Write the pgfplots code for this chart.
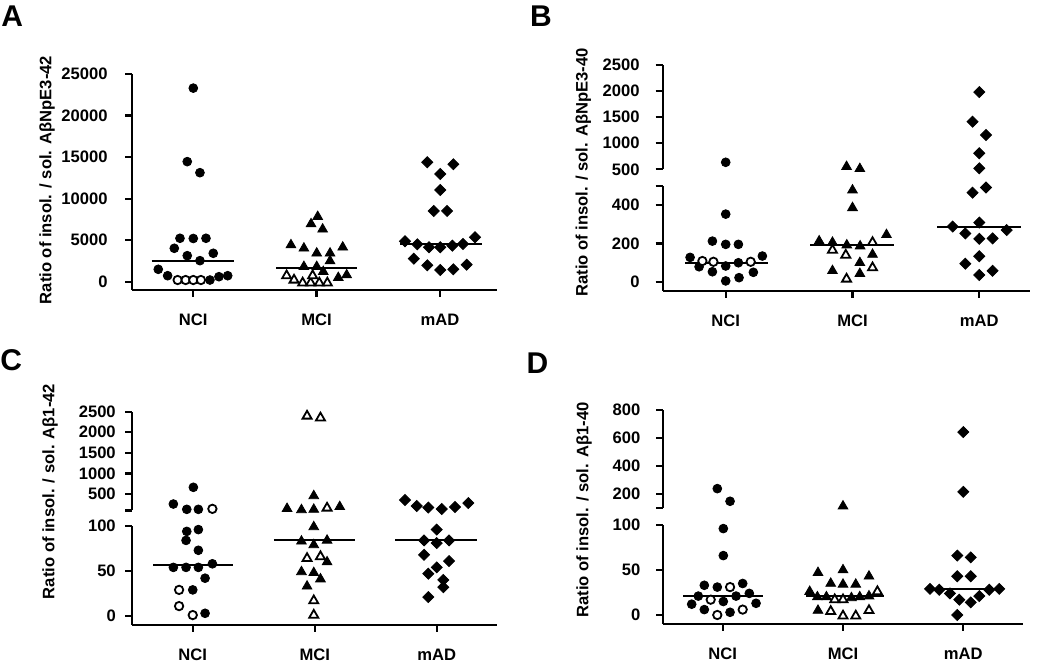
\documentclass[border=0pt]{standalone}
\usepackage{fontspec}
\setmainfont{Liberation Sans}
\usepackage{pgfplots}
\pgfplotsset{compat=1.18}

\newcommand{\lbl}{\bfseries\fontsize{8.3}{9}\selectfont}

\pgfplotsset{
  panel/.style={
    scale only axis, clip=false, anchor=south west,
    scaled y ticks=false,
    axis x line*=bottom, axis y line*=left,
    axis line style={-, line width=1.1pt},
    every outer x axis line/.append style={-},
    every outer y axis line/.append style={-},
    tick align=outside, major tick length=3.5pt,
    tick style={line width=1.1pt, black},
    xtick={1,2,3}, xticklabels={NCI,MCI,mAD},
    ticklabel style={font=\lbl},
    xticklabel style={yshift=-5pt},
    yticklabel style={xshift=-4.5pt},
  },
  upper/.style={panel, axis x line=none},
  fc/.style={only marks, mark=*, mark size=2.2pt, mark options={fill=black, draw=black, line width=0.4pt}},
  oc/.style={only marks, mark=*, mark size=2.1pt, mark options={fill=white, draw=black, line width=0.9pt}},
  ft/.style={only marks, mark=triangle*, mark size=2.8pt, mark options={fill=black, draw=black, line width=0.4pt}},
  ot/.style={only marks, mark=triangle*, mark size=2.6pt, mark options={fill=white, draw=black, line width=0.9pt}},
  fd/.style={only marks, mark=square*, mark size=1.95pt, mark options={rotate=45, fill=black, draw=black, line width=0.4pt}},
  med/.style={black, line width=1.1pt, mark=none},
}

\begin{document}
\begin{tikzpicture}
\useasboundingbox (0,0) rectangle (525pt,331pt);

% ---------- A ----------
\begin{axis}[panel, at={(66pt,186pt)}, width=182.5pt, height=108pt,
  xmin=0.503, xmax=3.463, ymin=-1000, ymax=25000,
  ytick={0,5000,10000,15000,20000,25000},
  yticklabels={0,5000,10000,15000,20000,25000},
  yticklabel style={xshift=-0.7pt}]
  \addplot[fc] coordinates {(1.000,23300) (0.951,14450) (1.054,13120) (0.892,5225)
    (1.000,5200) (1.103,5225) (0.846,4020) (0.951,3130) (1.162,3420) (1.054,2530)
    (0.716,1490) (0.792,720) (1.135,200) (1.208,600) (1.279,720)};
  \addplot[oc] coordinates {(0.873,200) (0.938,200) (1.000,200) (1.062,200)};
  \addplot[ft] coordinates {(2.009,7826) (1.955,6947) (2.049,6309) (1.792,4419)
    (1.897,4021) (2.212,4142) (2.001,3419) (2.109,3419) (2.109,2492) (1.897,1806)
    (2.001,1806) (2.054,1200) (2.176,480) (2.244,800)};
  \addplot[ot] coordinates {(1.757,720) (1.817,200) (1.887,-150) (1.952,-150)
    (1.968,720) (2.022,-150) (2.087,-150)};
  \addplot[fd] coordinates {(2.898,14376) (3.109,14135) (3.003,12967) (3.003,11040)
    (2.950,8512) (3.058,8512) (3.285,5346) (2.717,4864) (2.817,4503) (2.912,4142)
    (3.003,4142) (3.101,4334) (3.187,4539) (2.788,2769) (2.898,1975) (3.217,2047)
    (3.003,1409) (3.109,1493)};
  \addplot[med] coordinates {(0.663,2530) (1.333,2530)};
  \addplot[med] coordinates {(1.671,1690) (2.330,1690)};
  \addplot[med] coordinates {(2.676,4503) (3.339,4503)};
\end{axis}

% ---------- B ----------
\begin{axis}[panel, at={(331.35pt,185.65pt)}, width=183.65pt, height=52.35pt,
  xmin=0.503, xmax=3.400, ymin=-47, ymax=500,
  ytick={0,200,400,500}, yticklabels={0,200,400,{}}]
  \addplot[fc] coordinates {(1.000,353) (0.895,212) (1.000,195) (1.100,195)
    (0.719,127) (1.289,134) (1.000,82) (0.790,78) (0.895,52) (1.100,99)
    (1.218,49) (1.000,4) (1.105,21)};
  \addplot[oc] coordinates {(0.816,108) (0.903,104) (1.197,104)};
  \addplot[ft] coordinates {(2.000,478) (2.000,386) (1.737,212) (1.842,205)
    (1.955,191) (2.060,186) (2.268,245) (2.158,142) (2.058,99) (1.842,57) (2.058,42)};
  \addplot[ot] coordinates {(2.158,205) (1.842,165) (1.947,139) (2.158,73) (1.953,14)};
  \addplot[fd] coordinates {(2.947,465) (3.053,492) (2.790,288) (3.000,309)
    (3.216,270) (2.890,252) (3.000,224) (3.105,226) (3.000,133) (2.890,94)
    (3.105,57) (3.000,35)};
  \addplot[med] coordinates {(0.679,96) (1.337,96)};
  \addplot[med] coordinates {(1.667,190) (2.330,190)};
  \addplot[med] coordinates {(2.670,284) (3.330,284)};
\end{axis}
\begin{axis}[upper, at={(331.35pt,246.35pt)}, width=183.65pt, height=52.15pt,
  xmin=0.503, xmax=3.400, ymin=500, ymax=2500,
  ytick={500,1000,1500,2000,2500}, yticklabels={500,1000,1500,2000,2500}]
  \addplot[fc] coordinates {(1.000,634)};
  \addplot[ft] coordinates {(1.953,550) (2.058,510)};
  \addplot[fd] coordinates {(3.000,1980) (2.947,1412) (3.053,1157) (3.000,807) (3.000,519)};
\end{axis}

% ---------- C ----------
\begin{axis}[panel, at={(66pt,18.5pt)}, width=182.5pt, height=49.5pt,
  xmin=0.502, xmax=3.494, ymin=-10, ymax=100,
  ytick={0,50,100}, yticklabels={0,50,100},
  yticklabel style={xshift=3.4pt}]
  \addplot[fc] coordinates {(0.951,94) (1.046,96) (0.945,84) (1.046,73) (0.841,54)
    (0.945,54) (1.046,54) (1.161,58) (1.101,42) (1.000,29) (1.101,3)};
  \addplot[oc] coordinates {(0.888,29) (0.888,11) (1.000,1)};
  \addplot[ft] coordinates {(1.992,99) (1.891,83) (2.101,84) (1.992,79) (2.101,60)
    (1.891,49) (1.992,48) (2.047,41) (1.937,33)};
  \addplot[ot] coordinates {(1.937,64) (2.047,66) (1.992,17) (1.992,1)};
  \addplot[fd] coordinates {(3.000,96) (2.896,84) (3.000,81) (3.101,84) (2.896,68)
    (3.101,61) (3.000,54) (2.931,47) (3.054,40) (3.054,32) (2.931,21)};
  \addplot[med] coordinates {(0.677,57) (1.333,57)};
  \addplot[med] coordinates {(1.664,84) (2.328,84)};
  \addplot[med] coordinates {(2.658,84) (3.328,84)};
\end{axis}
\begin{axis}[upper, at={(66pt,75.75pt)}, width=182.5pt, height=49.4pt,
  xmin=0.502, xmax=3.494, ymin=100, ymax=2500,
  ytick={100,500,1000,1500,2000,2500}, yticklabels={{},500,1000,1500,2000,2500},
  yticklabel style={xshift=3.4pt}]
  \addplot[fc] coordinates {(1.005,663) (0.841,257) (0.951,128) (1.046,128)};
  \addplot[oc] coordinates {(1.161,140)};
  \addplot[ft] coordinates {(1.992,455) (1.773,145) (1.891,115) (1.992,125) (2.205,190)};
  \addplot[ot] coordinates {(2.101,160) (1.937,2395) (2.047,2350)};
  \addplot[fd] coordinates {(2.740,354) (2.836,208) (2.931,172) (3.041,135)
    (3.150,184) (3.259,281)};
\end{axis}

% ---------- D ----------
\begin{axis}[panel, at={(331.65pt,19pt)}, width=180pt, height=49.5pt,
  xmin=0.506, xmax=3.499, ymin=-10, ymax=100,
  ytick={0,50,100}, yticklabels={0,50,100}]
  \addplot[fc] coordinates {(1.005,96) (1.005,66) (0.847,33) (0.955,31) (1.166,35)
    (0.797,21) (1.111,21) (1.221,24) (1.005,15) (0.742,12) (1.277,13) (0.847,6)
    (1.061,3)};
  \addplot[oc] coordinates {(1.061,31) (0.900,17) (1.166,6) (0.955,0)};
  \addplot[ft] coordinates {(1.792,47) (2.000,50) (2.216,43) (1.898,35) (2.000,34)
    (2.106,34) (1.723,26) (1.787,20) (1.862,20) (2.070,19) (2.139,20) (2.216,21)
    (1.792,5)};
  \addplot[ot] coordinates {(2.286,26) (1.931,17) (2.000,17) (1.898,4) (2.000,-1)
    (2.106,-1) (2.216,5)};
  \addplot[fd] coordinates {(2.950,66) (3.062,64) (2.950,43) (3.062,43) (2.723,29)
    (2.800,28) (2.889,24) (3.216,28) (3.299,29) (3.133,21) (2.967,17) (3.062,14)
    (2.950,0)};
  \addplot[med] coordinates {(0.672,21) (1.337,21)};
  \addplot[med] coordinates {(1.696,21) (2.341,21)};
  \addplot[med] coordinates {(2.681,29) (3.333,29)};
\end{axis}
\begin{axis}[upper, at={(331.65pt,76.85pt)}, width=180pt, height=49.15pt,
  xmin=0.506, xmax=3.499, ymin=100, ymax=800,
  ytick={100,200,400,600,800}, yticklabels={{},200,400,600,800}]
  \addplot[fc] coordinates {(0.955,240) (1.061,150)};
  \addplot[ft] coordinates {(2.000,115)};
  \addplot[fd] coordinates {(3.000,643) (3.000,217)};
\end{axis}

% ---------- labels ----------
\node[rotate=90, font=\lbl] at (23.5pt,241pt) {Ratio of insol. / sol. AβNpE3-42};
\node[rotate=90, font=\lbl] at (291.65pt,244.75pt) {Ratio of insol. / sol. AβNpE3-40};
\node[rotate=90, font=\lbl] at (25pt,85.25pt) {Ratio of insol. / sol. Aβ1-42};
\node[rotate=90, font=\lbl] at (292pt,76pt) {Ratio of insol. / sol. Aβ1-40};

\node[anchor=base west, inner sep=0pt, font=\bfseries\fontsize{15}{15}\selectfont] at (0.5pt,317.65pt) {A};
\node[anchor=base west, inner sep=0pt, font=\bfseries\fontsize{15}{15}\selectfont] at (264.85pt,317.65pt) {B};
\node[anchor=base west, inner sep=0pt, font=\bfseries\fontsize{15}{15}\selectfont] at (0pt,145.65pt) {C};
\node[anchor=base west, inner sep=0pt, font=\bfseries\fontsize{15}{15}\selectfont] at (263.15pt,144.35pt) {D};
\end{tikzpicture}
\end{document}
